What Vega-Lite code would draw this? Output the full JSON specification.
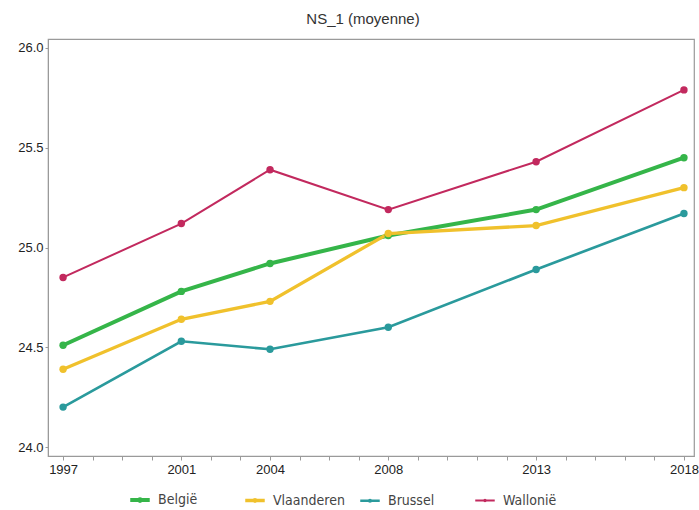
{
  "$schema": "https://vega.github.io/schema/vega-lite/v6.json",
  "autosize": {"type": "none"},
  "width": 646,
  "height": 417,
  "padding": {"left": 48, "top": 39, "right": 5, "bottom": 54},
  "background": "white",
  "title": {"text": "NS_1 (moyenne)", "font": "Liberation Sans", "fontSize": 15, "fontWeight": "normal", "color": "#333333", "offset": 12, "anchor": "middle", "dx": -8},
  "config": {
    "view": {"stroke": "#9a9a9a", "strokeWidth": 1.2},
    "axis": {"grid": false, "domainColor": "#9a9a9a", "tickColor": "#9a9a9a", "labelFont": "Liberation Sans", "labelFontSize": 13, "labelColor": "#222222", "title": null}
  },
  "data": {"values": [
    {"year": 1997, "region": "België", "value": 24.51},
    {"year": 2001, "region": "België", "value": 24.78},
    {"year": 2004, "region": "België", "value": 24.92},
    {"year": 2008, "region": "België", "value": 25.06},
    {"year": 2013, "region": "België", "value": 25.19},
    {"year": 2018, "region": "België", "value": 25.45},
    {"year": 1997, "region": "Vlaanderen", "value": 24.39},
    {"year": 2001, "region": "Vlaanderen", "value": 24.64},
    {"year": 2004, "region": "Vlaanderen", "value": 24.73},
    {"year": 2008, "region": "Vlaanderen", "value": 25.07},
    {"year": 2013, "region": "Vlaanderen", "value": 25.11},
    {"year": 2018, "region": "Vlaanderen", "value": 25.30},
    {"year": 1997, "region": "Brussel", "value": 24.20},
    {"year": 2001, "region": "Brussel", "value": 24.53},
    {"year": 2004, "region": "Brussel", "value": 24.49},
    {"year": 2008, "region": "Brussel", "value": 24.60},
    {"year": 2013, "region": "Brussel", "value": 24.89},
    {"year": 2018, "region": "Brussel", "value": 25.17},
    {"year": 1997, "region": "Wallonië", "value": 24.85},
    {"year": 2001, "region": "Wallonië", "value": 25.12},
    {"year": 2004, "region": "Wallonië", "value": 25.39},
    {"year": 2008, "region": "Wallonië", "value": 25.19},
    {"year": 2013, "region": "Wallonië", "value": 25.43},
    {"year": 2018, "region": "Wallonië", "value": 25.79}
  ]},
  "encoding": {
    "x": {"field": "year", "type": "quantitative",
      "scale": {"domain": [1996.49, 2018.34], "nice": false, "zero": false},
      "axis": {"values": [1997,1998,1999,2000,2001,2002,2003,2004,2005,2006,2007,2008,2009,2010,2011,2012,2013,2014,2015,2016,2017,2018],
        "labelExpr": "indexof([1997,2001,2004,2008,2013,2018], datum.value) >= 0 ? datum.value : ''",
        "tickSize": 4, "labelPadding": 3, "labelFlush": false, "labelOverlap": false}},
    "y": {"field": "value", "type": "quantitative",
      "scale": {"domain": [23.955, 26.045], "nice": false, "zero": false},
      "axis": {"values": [24, 24.5, 25, 25.5, 26], "format": ".1f", "tickSize": 3, "labelPadding": 2}},
    "color": {"field": "region", "type": "nominal",
      "scale": {"domain": ["België", "Vlaanderen", "Brussel", "Wallonië"], "range": ["#35b549", "#f0c12c", "#2a9a9c", "#c2295e"]},
      "legend": {"title": null, "orient": "none", "legendX": 80, "legendY": 449, "direction": "horizontal", "columns": 4, "gridAlign": "all",
        "symbolType": "M-1,0H1M-0.08,0A0.08,0.08 0 1,1 0.08,0A0.08,0.08 0 1,1 -0.08,0Z", "symbolSize": 380, "symbolStrokeWidth": 3,
        "labelFont": "DejaVu Sans Condensed", "labelFontSize": 14, "labelColor": "#444444", "labelOffset": 6, "columnPadding": 8}}
  },
  "layer": [
    {"mark": {"type": "line"},
     "encoding": {"strokeWidth": {"field": "region", "type": "nominal", "scale": {"domain": ["België", "Vlaanderen", "Brussel", "Wallonië"], "range": [4, 2, 2, 2]}, "legend": null}}},
    {"mark": {"type": "point", "filled": true, "opacity": 1, "size": 55}}
  ]
}
